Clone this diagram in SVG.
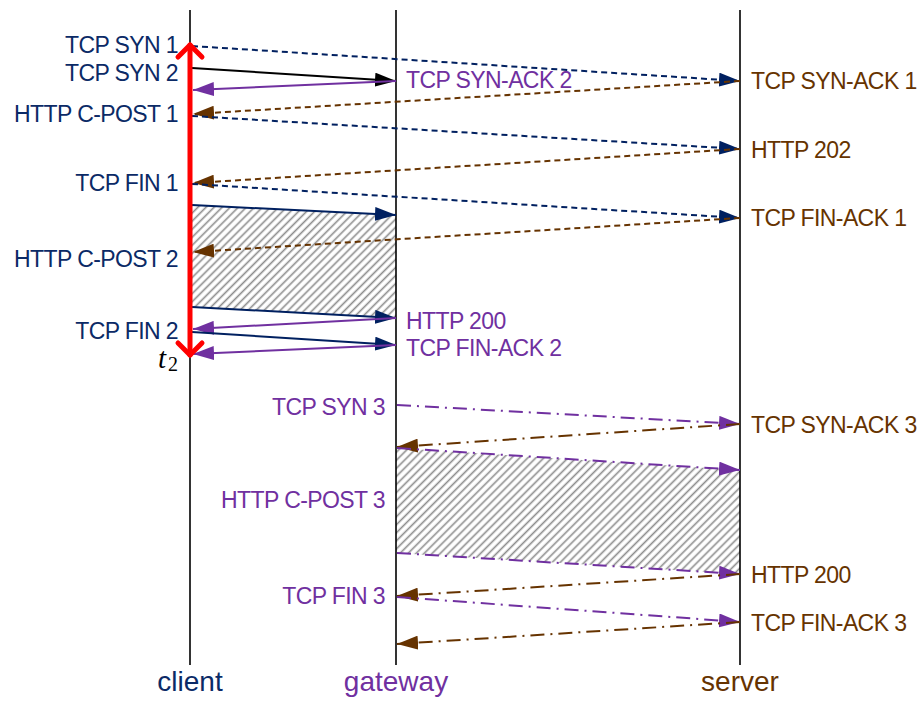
<svg xmlns="http://www.w3.org/2000/svg" width="924" height="702" viewBox="0 0 924 702">
  <style>
    .life { stroke: #000; stroke-width: 1.6; fill: none; }
    .lbl { font-family: "Liberation Sans", Arial, sans-serif; font-size: 23px; letter-spacing: -0.6px; }
    .end { text-anchor: end; }
    .ttl { font-family: "Liberation Sans", Arial, sans-serif; font-size: 28px; text-anchor: middle; }
    .navy { fill: #0b2a66; }
    .brown { fill: #663300; }
    .purple { fill: #7030a0; }
    .msg { fill: none; stroke-width: 2; }
    .s-navy { stroke: #002060; }
    .s-brown { stroke: #663300; }
    .s-purple { stroke: #7030a0; }
    .s-black { stroke: #000; }
    .dash { stroke-dasharray: 6 4; }
    .dashdot { stroke-dasharray: 14 6 2 6; }
    .hatch { fill: url(#hatch); stroke: none; }
  </style>
  <defs>
    <pattern id="hatch" patternUnits="userSpaceOnUse" width="5.7" height="10" patternTransform="rotate(45)">
      <rect width="5.7" height="10" fill="#fff"/>
      <line x1="1.5" y1="0" x2="1.5" y2="10" stroke="#8c8c8c" stroke-width="1.6"/>
    </pattern>
    <marker id="a-navy" markerUnits="userSpaceOnUse" markerWidth="22" markerHeight="14" refX="21" refY="7" orient="auto">
      <path d="M0,0 L21,7 L0,14 z" fill="#002060"/>
    </marker>
    <marker id="a-brown" markerUnits="userSpaceOnUse" markerWidth="22" markerHeight="14" refX="21" refY="7" orient="auto">
      <path d="M0,0 L21,7 L0,14 z" fill="#663300"/>
    </marker>
    <marker id="a-purple" markerUnits="userSpaceOnUse" markerWidth="22" markerHeight="14" refX="21" refY="7" orient="auto">
      <path d="M0,0 L21,7 L0,14 z" fill="#7030a0"/>
    </marker>
    <marker id="a-black" markerUnits="userSpaceOnUse" markerWidth="22" markerHeight="14" refX="21" refY="7" orient="auto">
      <path d="M0,0 L21,7 L0,14 z" fill="#000"/>
    </marker>
  </defs>

  <rect width="924" height="702" fill="#fff"/>

  <!-- busy periods -->
  <g id="busy">
    <polygon class="hatch" points="190,205 396,215 396,318 190,307"/>
    <polygon class="hatch" points="396,448 740,470 740,574 396,553"/>
  </g>

  <!-- lifelines -->
  <g id="client">
    <line class="life" x1="190" y1="10" x2="190" y2="665"/>
    <text class="ttl navy" x="190" y="691">client</text>
  </g>
  <g id="gateway">
    <line class="life" x1="396" y1="10" x2="396" y2="665"/>
    <text class="ttl purple" x="396" y="691">gateway</text>
  </g>
  <g id="server">
    <line class="life" x1="740" y1="10" x2="740" y2="665"/>
    <text class="ttl brown" x="740" y="691">server</text>
  </g>

  <!-- messages -->
  <g id="connectors">
    <line class="msg s-navy dash" x1="192" y1="46" x2="740" y2="81" marker-end="url(#a-navy)"/>
    <line class="msg s-brown dash" x1="740" y1="81" x2="193" y2="114" marker-end="url(#a-brown)"/>
    <line class="msg s-black" x1="192" y1="68" x2="396" y2="81" marker-end="url(#a-black)"/>
    <line class="msg s-purple" x1="396" y1="81" x2="193" y2="90" marker-end="url(#a-purple)"/>
    <line class="msg s-navy dash" x1="192" y1="116" x2="740" y2="149" marker-end="url(#a-navy)"/>
    <line class="msg s-brown dash" x1="740" y1="149" x2="193" y2="183" marker-end="url(#a-brown)"/>
    <line class="msg s-navy dash" x1="192" y1="184" x2="740" y2="218" marker-end="url(#a-navy)"/>
    <line class="msg s-brown dash" x1="740" y1="218" x2="193" y2="252" marker-end="url(#a-brown)"/>
    <line class="msg s-navy" x1="192" y1="205" x2="396" y2="215" marker-end="url(#a-navy)"/>
    <line class="msg s-navy" x1="192" y1="307" x2="396" y2="318" marker-end="url(#a-navy)"/>
    <line class="msg s-purple" x1="396" y1="318" x2="193" y2="329" marker-end="url(#a-purple)"/>
    <line class="msg s-navy" x1="192" y1="332" x2="396" y2="345" marker-end="url(#a-navy)"/>
    <line class="msg s-purple" x1="396" y1="345" x2="193" y2="354" marker-end="url(#a-purple)"/>

    <line class="msg s-purple dashdot" x1="397" y1="405" x2="740" y2="424" marker-end="url(#a-purple)"/>
    <line class="msg s-brown dashdot" x1="740" y1="424" x2="397" y2="447" marker-end="url(#a-brown)"/>
    <line class="msg s-purple dashdot" x1="397" y1="448" x2="740" y2="470" marker-end="url(#a-purple)"/>
    <line class="msg s-purple dashdot" x1="397" y1="553" x2="740" y2="574" marker-end="url(#a-purple)"/>
    <line class="msg s-brown dashdot" x1="740" y1="574" x2="397" y2="596" marker-end="url(#a-brown)"/>
    <line class="msg s-purple dashdot" x1="397" y1="597" x2="740" y2="622" marker-end="url(#a-purple)"/>
    <line class="msg s-brown dashdot" x1="740" y1="622" x2="397" y2="644" marker-end="url(#a-brown)"/>
  </g>

  <!-- session span on the client -->
  <g id="span" stroke="#ff0000" stroke-width="5" fill="none" stroke-linecap="round" stroke-linejoin="round">
    <line x1="190" y1="45" x2="190" y2="355"/>
    <polyline points="178,57 190,45 202,57"/>
    <polyline points="178,343 190,355 202,343"/>
  </g>
  <text id="t2" x="158" y="368" font-family="'Liberation Serif', 'Times New Roman', serif" font-size="29" font-style="italic">t<tspan x="168" y="371" font-size="20" font-style="normal">2</tspan></text>

  <!-- client-side labels -->
  <g id="client-labels" class="lbl end navy">
    <text x="178" y="53">TCP SYN 1</text>
    <text x="178" y="81">TCP SYN 2</text>
    <text x="178" y="121.5">HTTP C-POST 1</text>
    <text x="178" y="190.5">TCP FIN 1</text>
    <text x="178" y="267">HTTP C-POST 2</text>
    <text x="178" y="339">TCP FIN 2</text>
  </g>

  <!-- gateway labels -->
  <g id="gateway-labels" class="lbl purple">
    <text x="406" y="87.5">TCP SYN-ACK 2</text>
    <text x="406" y="328.5">HTTP 200</text>
    <text x="406" y="355.5">TCP FIN-ACK 2</text>
    <text class="end" x="385" y="415">TCP SYN 3</text>
    <text class="end" x="385" y="508">HTTP C-POST 3</text>
    <text class="end" x="385" y="603.5">TCP FIN 3</text>
  </g>

  <!-- server labels -->
  <g id="server-labels" class="lbl brown">
    <text x="751" y="88.5">TCP SYN-ACK 1</text>
    <text x="751" y="157.5">HTTP 202</text>
    <text x="751" y="226">TCP FIN-ACK 1</text>
    <text x="751" y="432.5">TCP SYN-ACK 3</text>
    <text x="751" y="583">HTTP 200</text>
    <text x="751" y="631">TCP FIN-ACK 3</text>
  </g>
</svg>
